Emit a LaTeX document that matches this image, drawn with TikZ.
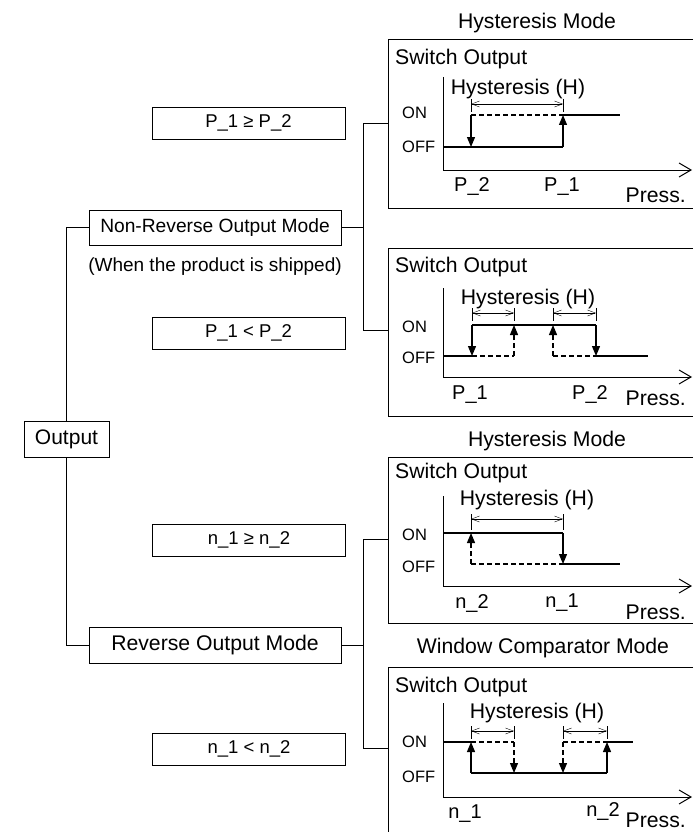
\documentclass[tikz,border=0pt]{standalone}
\usepackage{fontspec}
\setmainfont{Liberation Sans}
\usetikzlibrary{arrows.meta}
\usetikzlibrary{positioning}

\begin{document}
\begin{tikzpicture}[x=1pt,y=-1pt,
  box/.style={draw,line width=0.8pt,inner sep=0pt,font=\fontsize{21.2}{24}\selectfont},
  cond/.style={draw,line width=0.8pt,minimum width=193pt,minimum height=32pt,inner sep=0pt,font=\fontsize{18.5}{21}\selectfont},
  txt/.style={inner sep=0pt,font=\fontsize{21.2}{24}\selectfont},
  tick/.style={inner sep=0pt,font=\fontsize{20}{23}\selectfont},
  lvl/.style={inner sep=0pt,anchor=west,font=\fontsize{16.5}{19}\selectfont},
  wire/.style={line width=0.8pt},
  sig/.style={line width=1.2pt},
  dsig/.style={line width=1.2pt,dash pattern=on 5pt off 3pt},
  tip/.style={-{Triangle[length=10pt,width=8pt]}},
  axis/.style={line width=1pt,-{Straight Barb[length=12pt,width=14pt]}},
  dim/.style={line width=0.4pt,{Straight Barb[length=8pt,width=6pt]}-{Straight Barb[length=8pt,width=6pt]}},
  ext/.style={line width=0.4pt}]
\useasboundingbox (0,0) rectangle (693,832);

% tree on the left
\node[box,font=\fontsize{21}{24}\selectfont,minimum width=85pt,minimum height=36pt] (out) at (66.5,439) {Output};
\node[box,font=\fontsize{19.2}{22}\selectfont,minimum width=252pt,minimum height=35pt] (nonrev) at (215,227.5) {Non-Reverse Output Mode};
\node[txt,font=\fontsize{19}{22}\selectfont,below=12pt of nonrev] (ship) {(When the product is shipped)};
\node[box,minimum width=252pt,minimum height=36pt] (rev) at (215,645) {Reverse Output Mode};
\node[cond] (pge) at (248.5,123) {P\_1 ≥ P\_2};
\node[cond] (plt) at (248.5,333) {P\_1 < P\_2};
\node[cond] (nge) at (249,540) {n\_1 ≥ n\_2};
\node[cond] (nlt) at (249,749) {n\_1 < n\_2};
\draw[wire] (out.north) |- (nonrev.west);
\draw[wire] (out.south) |- (rev.west);
\coordinate (in1) at (388,123);
\coordinate (in2) at (388,330);
\coordinate (in3) at (388,539);
\coordinate (in4) at (388,748);
\draw[wire] (in1) -- ++(-25,0) |- (in2);
\draw[wire] (nonrev.east) -- ++(22,0);
\draw[wire] (in3) -- ++(-25,0) |- (in4);
\draw[wire] (rev.east) -- ++(22,0);

% panel 1
\draw[wire] (693,39) -| (388,208) -- (693,208);
\node[txt] (t1) at (537,23) {Hysteresis Mode};
\node[txt,anchor=west] (so1) at (395,59) {Switch Output};
\draw[axis] (443,77) |- (692,170);
\node[lvl] at (402,113) {ON};
\node[lvl] at (402,147) {OFF};
\draw[sig] (443,147) -- (563,147);
\draw[sig,tip] (563,147) -- (563,115);
\draw[sig] (563,115) -- (620,115);
\draw[dsig] (471,115) -- (563,115);
\draw[sig,tip] (471,115) -- (471,147);
\node[txt] (h1) at (518,89) {Hysteresis (H)};
\draw[ext] (471,99) -- (471,112) (563,99) -- (563,112);
\draw[dim] (471,104) -- (563,104);
\node[tick] at (472,187) {P\_2};
\node[tick] at (562,187) {P\_1};
\node[txt,anchor=east] at (686,195) {Press.};

% panel 2
\draw[wire] (693,248) -| (388,416) -- (693,416);
\node[txt,anchor=west] (so2) at (395,267) {Switch Output};
\draw[axis] (443,288) |- (692,377);
\node[lvl] at (402,327) {ON};
\node[lvl] at (402,358) {OFF};
\draw[sig] (443,356) -- (472,356);
\draw[sig,tip] (472,325) -- (472,356);
\draw[sig] (472,325) -- (596,325);
\draw[sig,tip] (596,325) -- (596,356);
\draw[sig] (596,356) -- (648,356);
\draw[dsig] (472,356) -- (514,356);
\draw[dsig,tip] (514,356) -- (514,325);
\draw[dsig] (553,356) -- (596,356);
\draw[dsig,tip] (553,356) -- (553,325);
\node[txt] (h2) at (528,299) {Hysteresis (H)};
\draw[ext] (472,308) -- (472,321) (514,308) -- (514,321) (553,308) -- (553,321) (596,308) -- (596,321);
\draw[dim] (472,313) -- (514,313);
\draw[dim] (553,313) -- (596,313);
\node[tick] at (470,395) {P\_1};
\node[tick] at (590,395) {P\_2};
\node[txt,anchor=east] at (686,398) {Press.};

% panel 3
\node[txt] (t3) at (547,441) {Hysteresis Mode};
\draw[wire] (693,457) -| (388,623) -- (693,623);
\node[txt,anchor=west] (so3) at (395,473) {Switch Output};
\draw[axis] (443,496) |- (692,586);
\node[lvl] at (402,535) {ON};
\node[lvl] at (402,567) {OFF};
\draw[sig] (443,533) -- (563,533);
\draw[sig,tip] (563,533) -- (563,564);
\draw[sig] (563,564) -- (620,564);
\draw[dsig] (471,564) -- (563,564);
\draw[dsig,tip] (471,564) -- (471,533);
\node[txt] (h3) at (527,500) {Hysteresis (H)};
\draw[ext] (471,514) -- (471,530) (563,514) -- (563,530);
\draw[dim] (471,519) -- (563,519);
\node[tick] at (472,603) {n\_2};
\node[tick] at (562,603) {n\_1};
\node[txt,anchor=east] at (686,612) {Press.};

% panel 4
\node[txt] (t4) at (543,648) {Window Comparator Mode};
\draw[wire] (693,667) -| (388,832);
\node[txt,anchor=west] (so4) at (395,687) {Switch Output};
\draw[axis] (443,703) |- (692,797);
\node[lvl] at (402,742) {ON};
\node[lvl] at (402,777) {OFF};
\draw[sig] (443,742) -- (471,742);
\draw[sig,tip] (471,773) -- (471,742);
\draw[sig] (471,773) -- (607,773);
\draw[sig,tip] (607,773) -- (607,742);
\draw[sig] (607,742) -- (633,742);
\draw[dsig] (471,742) -- (514,742);
\draw[dsig,tip] (514,742) -- (514,773);
\draw[dsig] (563,742) -- (607,742);
\draw[dsig,tip] (563,742) -- (563,773);
\node[txt] (h4) at (537,713) {Hysteresis (H)};
\draw[ext] (471,726) -- (471,739) (514,726) -- (514,739) (563,726) -- (563,739) (607,726) -- (607,739);
\draw[dim] (471,731) -- (514,731);
\draw[dim] (563,731) -- (607,731);
\node[tick] at (465,814) {n\_1};
\node[tick] at (603,811) {n\_2};
\node[txt,anchor=east] at (686,820) {Press.};
\end{tikzpicture}
\end{document}
